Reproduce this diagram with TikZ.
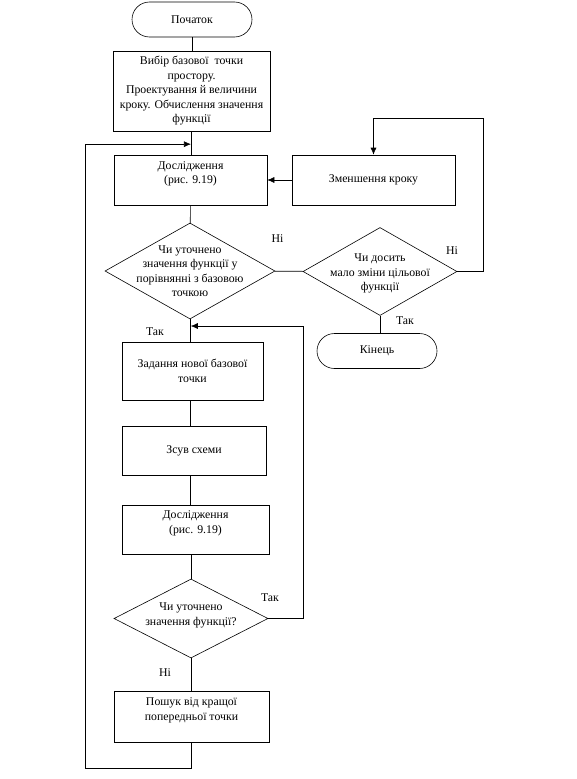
\documentclass[tikz,border=0pt]{standalone}
\usepackage{fontspec}
\setmainfont{Liberation Serif}
\usetikzlibrary{positioning}
\usetikzlibrary{calc}
\usetikzlibrary{shapes.geometric}
\usetikzlibrary{arrows.meta}

\tikzset{
	txt/.style = {font=\fontsize{11.8}{14.5}\selectfont, align=center},
	blk/.style = {txt, draw, rectangle, inner sep=1pt},
	term/.style = {txt, draw, rectangle, rounded corners=17.5pt, minimum width=120pt, minimum height=35pt},
	dcs/.style = {draw, diamond, inner sep=0pt},
	lbl/.style = {txt, inner sep=0pt},
	arr/.style = {-{Latex[length=7pt,width=6pt]}},
}

\begin{document}
\begin{tikzpicture}[x=1pt, y=-1pt, line width=0.6pt]
		\useasboundingbox (0,0) rectangle (577,779);
		\node[term] at (192,19.5) (start) {Початок};
		\node[blk, minimum width = 157pt, minimum height = 80pt] at (191.5,91) (choose) {Вибір базової \ точки\\простору.\\Проектування й величини\\кроку. Обчислення значення\\функції};
		\node[blk, minimum width = 153pt, minimum height = 50pt] at (190.5,180) (probe1) {Дослідження\\(рис. 9.19)\\\mbox{}};
		\node[blk, minimum width = 163pt, minimum height = 50pt] at (373.5,180) (shrink) {Зменшення кроку};
		\node[dcs, minimum width = 170pt, minimum height = 96pt] at (190,271) (better1) {};
		\node[lbl] at (better1) {Чи уточнено\\значення функції у\\порівнянні з базовою\\точкою};
		\node[dcs, minimum width = 154pt, minimum height = 88pt] at (380,271.5) (small) {};
		\node[lbl] at ($(small)+(0,2)$) {Чи досить\\мало зміни цільової\\функції};
		\node[term] at (377,351) (stop) {Кінець};
		\node[blk, minimum width = 141pt, minimum height = 58pt] at (192.5,371) (newbase) {Задання нової базової\\точки};
		\node[blk, minimum width = 144pt, minimum height = 49pt] at (194,450.5) (shift) {Зсув схеми};
		\node[blk, minimum width = 147pt, minimum height = 49pt] at (195.5,529.5) (probe2) {Дослідження\\(рис. 9.19)\\\mbox{}};
		\node[dcs, minimum width = 154pt, minimum height = 79pt] at (191,618.5) (better2) {};
		\node[lbl] at ($(better2)+(0,-3)$) {Чи уточнено\\значення функції?};
		\node[blk, minimum width = 155pt, minimum height = 51pt] at (191.5,716.5) (search) {Пошук від кращої\\попередньої точки\\\mbox{}};

		\coordinate (m1) at ($(choose.south)!0.55!(probe1.north)$);
		\coordinate (m2) at ($(better1.south)!0.3!(newbase.north)$);

		\draw (start) -- (start |- choose.north);
		\draw (choose) -- (choose |- probe1.north);
		\draw[arr] (shrink) -- (probe1);
		\draw (probe1) -- (better1);
		\draw (better1) -- (small);
		\draw[arr] (small.east) -- ++(26,0) |- ($(shrink.north)+(0,-36)$) -- (shrink.north);
		\draw (small) -- (small |- stop.north);
		\draw (better1) -- (better1 |- newbase.north);
		\draw (better1 |- newbase.south) -- (better1 |- shift.north);
		\draw (better1 |- shift.south) -- (better1 |- probe2.north);
		\draw (better2 |- probe2.south) -- (better2);
		\draw[arr] (better2.east) -| ($(m2)+(113,0)$) -- (m2);
		\draw (better2) -- (better2 |- search.north);
		\draw[arr] (search.south) -- ++(0,26) -| ($(m1)+(-106,0)$) -- (m1);

		\node[lbl] at (277.5,239) {Ні};
		\node[lbl] at (452,251) {Ні};
		\node[lbl] at (405,321) {Так};
		\node[lbl] at (155,332) {Так};
		\node[lbl] at (270,598) {Так};
		\node[lbl] at (165,673) {Ні};
	\end{tikzpicture}
\end{document}
